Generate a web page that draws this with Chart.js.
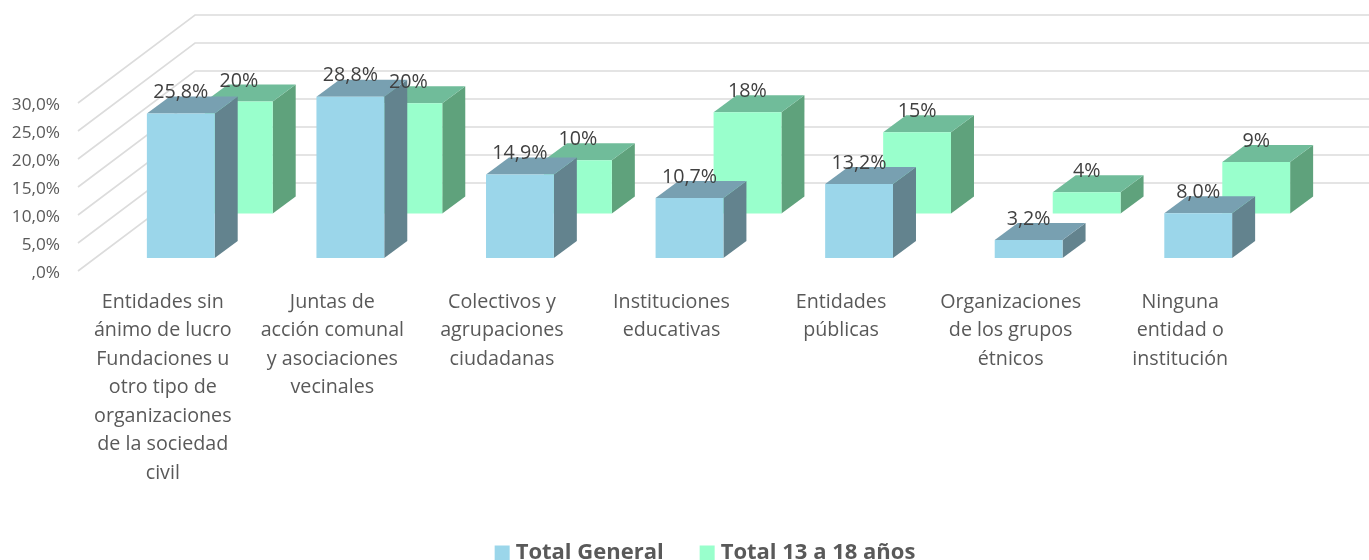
<!DOCTYPE html>
<html lang="es">
<head>
<meta charset="utf-8">
<title>Participación en entidades</title>
<script src="https://cdn.jsdelivr.net/npm/chart.js@4"></script>
<style>
  html, body { margin: 0; padding: 0; background: #fff; }
  body { width: 1369px; height: 560px; overflow: hidden; }
  canvas { display: block; }
</style>
</head>
<body>
<canvas id="myChart" width="1369" height="574"></canvas>
<script>
const categorias = [
    ['Entidades sin', 'ánimo de lucro', 'Fundaciones u', 'otro tipo de', 'organizaciones', 'de la sociedad', 'civil'],
    ['Juntas de', 'acción comunal', 'y asociaciones', 'vecinales'],
    ['Colectivos y', 'agrupaciones', 'ciudadanas'],
    ['Instituciones', 'educativas'],
    ['Entidades', 'públicas'],
    ['Organizaciones', 'de los grupos', 'étnicos'],
    ['Ninguna', 'entidad o', 'institución']
];
const totalGeneral = [25.8, 28.8, 14.9, 10.7, 13.2, 3.2, 8.0];
// las etiquetas del original van redondeadas, la altura no
const total13a18 = [20.0, 19.7, 9.5, 18.1, 14.5, 3.8, 9.2];
const etiquetasY = [',0%', '5,0%', '10,0%', '15,0%', '20,0%', '25,0%', '30,0%'];

const FUENTE = '"Open Sans", sans-serif';
const PROF_X = 23, PROF_Y = 17;          // profundidad de cada barra
const SERIE2_X = 58, SERIE2_Y = -44.5;   // segunda fila de barras
const FONDO_Y = -75, FONDO_X = 195;      // pared del fondo
const PARED_X = 78, PARED_Y = 13;        // inicio de la pared lateral
const LEYENDA_X = 66;                    // la leyenda no va centrada sobre el area

const estilos = [
    { frente: '#9bd6ea', arriba: '#78a0b1', lado: '#63838e', texto: v => v.toFixed(1).replace('.', ',') + '%', alto: 21 },
    { frente: '#99ffcc', arriba: '#70bc9a', lado: '#5fa27c', texto: v => v.toFixed(0) + '%', alto: 20.5 }
];

const cara = (ctx, color, puntos) => {
    ctx.fillStyle = color;
    ctx.beginPath();
    puntos.forEach(([x, y], i) => i ? ctx.lineTo(x, y) : ctx.moveTo(x, y));
    ctx.closePath();
    ctx.fill();
};

const barras3d = {
    id: 'barras3d',
    afterLayout(chart) {
        chart.legend.left += LEYENDA_X;
        chart.legend.right += LEYENDA_X;
    },
    beforeDatasetsDraw(chart) {
        const { ctx, scales: { y } } = chart;
        ctx.save();
        ctx.strokeStyle = '#dcdcdc';
        ctx.lineWidth = 1.6;
        y.ticks.forEach(t => {
            const py = y.getPixelForValue(t.value);
            ctx.beginPath();
            ctx.moveTo(PARED_X, py + PARED_Y);
            ctx.lineTo(FONDO_X, py + FONDO_Y);
            ctx.lineTo(chart.width, py + FONDO_Y);
            ctx.stroke();
        });
        ctx.restore();
    },
    beforeDatasetDraw(chart, args) {
        const { ctx } = chart;
        const est = estilos[args.index];
        ctx.save();
        if (args.index === 1) ctx.translate(SERIE2_X, SERIE2_Y);
        args.meta.data.forEach(bar => {
            const { x, y, base, width } = bar.getProps(['x', 'y', 'base', 'width']);
            const der = x + width / 2, izq = x - width / 2;
            cara(ctx, est.lado, [[der, y], [der + PROF_X, y - PROF_Y], [der + PROF_X, base - PROF_Y], [der, base]]);
            cara(ctx, est.arriba, [[izq, y], [izq + PROF_X, y - PROF_Y], [der + PROF_X, y - PROF_Y], [der, y]]);
        });
    },
    afterDatasetDraw(chart) {
        chart.ctx.restore();
    },
    afterDatasetsDraw(chart) {
        const { ctx } = chart;
        ctx.save();
        ctx.font = '19.7px ' + FUENTE;
        ctx.fillStyle = '#404040';
        ctx.textAlign = 'center';
        ctx.textBaseline = 'middle';
        [1, 0].forEach(i => {
            const dx = i ? SERIE2_X : 0, dy = i ? SERIE2_Y : 0;
            chart.getDatasetMeta(i).data.forEach((bar, j) => {
                const valor = chart.data.datasets[i].data[j];
                ctx.fillText(estilos[i].texto(valor), bar.x + dx, bar.y + dy - estilos[i].alto);
            });
        });
        ctx.restore();
    }
};

new Chart(document.getElementById('myChart'), {
    type: 'bar',
    data: {
        labels: categorias,
        datasets: [
            { label: 'Total General', data: totalGeneral, backgroundColor: estilos[0].frente, grouped: false, clip: false },
            { label: 'Total 13 a 18 años', data: total13a18, backgroundColor: estilos[1].frente, grouped: false, clip: false }
        ]
    },
    plugins: [barras3d],
    options: {
        responsive: false,
        animation: false,
        barPercentage: 0.4,
        categoryPercentage: 1,
        layout: { padding: { top: 90, right: 86, left: 0, bottom: 0 } },
        plugins: {
            tooltip: { enabled: false },
            legend: {
                position: 'bottom',
                labels: {
                    usePointStyle: true,
                    pointStyle: 'rect',
                    boxWidth: 5,
                    boxHeight: 15,
                    padding: 41,
                    color: '#595959',
                    font: { family: FUENTE, size: 22, weight: 'bold' }
                }
            }
        },
        scales: {
            x: {
                grid: { display: false, drawTicks: false },
                border: { display: false },
                afterFit: s => { s.height = 243; },
                ticks: {
                    autoSkip: false,
                    maxRotation: 0,
                    padding: 30,
                    labelOffset: -18,
                    color: '#595959',
                    font: { family: FUENTE, size: 19.7, lineHeight: 1.447 }
                }
            },
            y: {
                min: 0,
                max: 30,
                grid: { display: false, drawTicks: false },
                border: { display: false },
                afterFit: s => { s.width = 96; },
                ticks: {
                    stepSize: 5,
                    padding: 36,
                    labelOffset: 15,
                    color: '#595959',
                    font: { family: FUENTE, size: 17.2 },
                    callback: (v, i) => etiquetasY[i]
                }
            }
        }
    }
});
</script>
</body>
</html>
